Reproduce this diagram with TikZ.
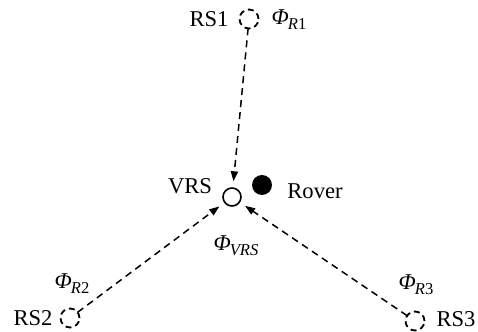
\documentclass[tikz,border=0pt]{standalone}
\usepackage{fontspec}
\setmainfont{Liberation Serif}
\usetikzlibrary{arrows.meta}
\newcommand{\phisub}[1]{\textit{Φ}\kern-0.5pt\raisebox{-0.5ex}{\fontsize{8.3pt}{8.3pt}\selectfont #1}}
\begin{document}
\begin{tikzpicture}[x=0.5pt,y=-0.5pt,
  every node/.style={font=\fontsize{11.3pt}{13pt}\selectfont, inner sep=0pt},
  station/.style={circle, draw, line width=0.9pt, dash pattern=on 3pt off 2pt,
                  minimum size=9.5pt, inner sep=0pt, outer sep=0pt},
  virtual/.style={circle, draw, line width=0.8pt, minimum size=9pt, inner sep=0pt},
  rover/.style={circle, fill=black, minimum size=10pt, inner sep=0pt},
  link/.style={line width=0.75pt, dash pattern=on 3.5pt off 2.5pt,
               -{Triangle[length=5pt,width=3.6pt]}, shorten >=3pt}]
\useasboundingbox (0,0) rectangle (478,332);

% reference stations, virtual station and rover
\node[station] (rs1) at (249,19) {};
\node[station] (rs2) at (70,318) {};
\node[station] (rs3) at (415,321) {};
\node[virtual] (vrs) at (232,197) {};
\node[rover]   (rov) at (262,185) {};

% labels
\node (lrs1) at (209,19) {RS1};
\node (lrs2) at (33,318) {RS2};
\node (lrs3) at (456,319) {RS3};
\node (lvrs) at (190,186) {VRS};
\node (lrov) at (315,191) {Rover};
\node (p1)   at (289,20)  {\phisub{\textit{R}1}};
\node (p2)   at (72,284)  {\phisub{\textit{R}2}};
\node (p3)   at (416,285) {\phisub{\textit{R}3}};
\node (pv)   at (236,246) {\phisub{\textit{VRS}}};

% observation links towards the virtual station
\draw[link] (rs1) -- (vrs);
\draw[link] (rs2) -- (vrs);
\draw[link] (rs3) -- (vrs);
\end{tikzpicture}
\end{document}
